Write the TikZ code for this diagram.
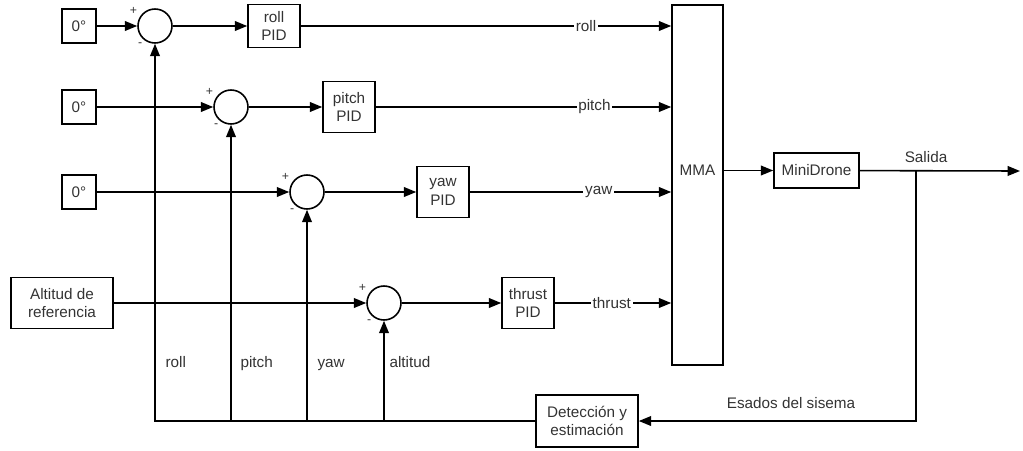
\documentclass[tikz,border=0pt]{standalone}
\usepackage{fontspec}
\setmainfont{Liberation Sans}
\usetikzlibrary{arrows.meta}

\begin{document}
\begin{tikzpicture}[x=0.02cm,y=-0.02cm,line width=0.9pt,
  >={Triangle[length=7pt,width=5.5pt]},
  every node/.style={font=\fontsize{8.7}{10.5}\selectfont,text=black!80},
  blk/.style={draw,inner sep=1pt,align=center},
  pid/.style={blk,minimum width=1.04cm,minimum height=1.02cm},
  sumnode/.style={draw,circle,minimum size=0.68cm,inner sep=0pt,label distance=1pt,
    label={[sgn]150:+},label={[sgn]235:-}},
  sgn/.style={font=\scriptsize,inner sep=1pt},
  sig/.style={fill=white,inner sep=1pt},
  fbl/.style={anchor=base west,inner sep=1pt}]

\useasboundingbox (0,0) rectangle (1023,450);

\foreach \i/\y in {1/26,2/107,3/192} \node[blk,minimum size=0.68cm] (z\i) at (79,\y) {0°};
\node[blk,minimum width=2.04cm,minimum height=1.02cm] (alt) at (62,303) {Altitud de\\referencia};

\foreach \i/\x/\y in {1/155/26,2/231/107,3/307/192,4/384/303} \node[sumnode] (s\i) at (\x,\y) {};

\node[pid,minimum height=0.86cm] (p1) at (274,26) {roll\\PID};
\node[pid] (p2) at (349,107) {pitch\\PID};
\node[pid] (p3) at (443,192) {yaw\\PID};
\node[pid] (p4) at (528,303) {thrust\\PID};

\node[blk,minimum width=1.02cm,minimum height=7.2cm,label={[yshift=0.3cm]center:MMA}] (mma) at (697.5,185) {};
\node[blk,minimum width=1.7cm,minimum height=0.7cm] (drone) at (816.5,170.5) {MiniDrone};
\node[blk,minimum width=2.04cm,minimum height=1.04cm] (det) at (587,421) {Detección y\\estimación};

\foreach \i in {1,2,3} \draw[->] (z\i) -- (s\i);
\draw[->] (alt) -- (s4);
\foreach \i in {1,2,3,4} \draw[->] (s\i) -- (p\i);

\draw[->] (p1) -- (p1 -| mma.west) node[sig,pos=0.77] {roll};
\draw[->] (p2) -- (p2 -| mma.west) node[sig,pos=0.74] {pitch};
\draw[->] (p3) -- (p3 -| mma.west) node[sig,pos=0.64] {yaw};
\draw[->] (p4) -- (p4 -| mma.west) node[sig,pos=0.49] {thrust};

\draw[->] (mma.east |- drone) -- (drone);
\coordinate (out) at (1020,171);
\coordinate (br) at (916,171);
\draw[->] (drone) -- (out);
\node (sal) at (926,157) {Salida};
\draw[->] (br) |- (det);
\node (est) at (791,403) {Esados del sisema};

\draw[->] (det) -| (s1);
\foreach \i in {2,3,4} \draw[->] (s\i |- det) -- (s\i);

\node[fbl] (lr) at (163,367) {roll};
\node[fbl] (lp) at (238,367) {pitch};
\node[fbl] (ly) at (315,367) {yaw};
\node[fbl] (la) at (387,367) {altitud};

\end{tikzpicture}
\end{document}
